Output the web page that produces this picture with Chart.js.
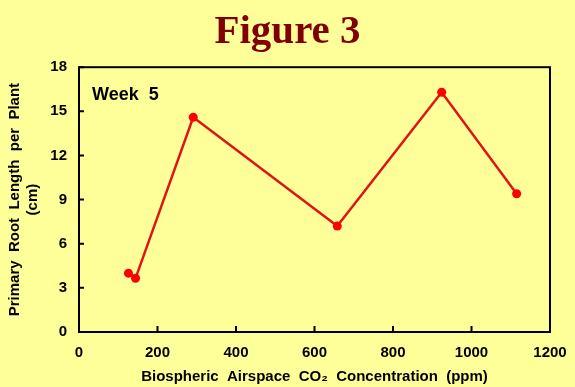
<!DOCTYPE html>
<html>
<head>
<meta charset="utf-8">
<script src="https://cdn.jsdelivr.net/npm/chart.js@4/dist/chart.umd.min.js"></script>
<style>
  html, body { margin: 0; padding: 0; background: #FFFF99; }
  #wrap { width: 575px; height: 387px; }
</style>
</head>
<body>
<div id="wrap"><canvas id="rootChart"></canvas></div>
<script>
// Week 5 readings
const co2Levels = [126, 144, 291, 658, 924, 1115];
const rootLength = [4.0, 3.65, 14.6, 7.2, 16.3, 9.4];
const xTicks = [0, 200, 400, 600, 800, 1000, 1200];
const yTicks = [0, 3, 6, 9, 12, 15, 18];

const points = co2Levels.map((c, i) => ({ x: c, y: rootLength[i] }));
const sans = '"Liberation Sans", Arial, sans-serif';

// paint background, frame around plot, inward tick marks and the "Week 5" note
const framePlugin = {
    id: 'frame',
    beforeDraw(chart) {
        const ctx = chart.ctx;
        ctx.save();
        ctx.fillStyle = '#FFFF99';
        ctx.fillRect(0, 0, chart.width, chart.height);
        ctx.restore();
    },
    afterDatasetsDraw(chart) {
        const ctx = chart.ctx;
        const a = chart.chartArea;
        const xs = chart.scales.x;
        const ys = chart.scales.y;
        ctx.save();
        ctx.strokeStyle = '#000';
        ctx.lineWidth = 2;
        ctx.strokeRect(a.left, a.top, a.right - a.left, a.bottom - a.top);
        ctx.beginPath();
        xTicks.forEach(v => {
            const px = xs.getPixelForValue(v);
            ctx.moveTo(px, a.bottom);
            ctx.lineTo(px, a.bottom - 6);
        });
        yTicks.forEach(v => {
            const py = ys.getPixelForValue(v);
            ctx.moveTo(a.left, py);
            ctx.lineTo(a.left + 5, py);
        });
        ctx.stroke();
        ctx.fillStyle = '#000';
        ctx.font = 'bold 18px ' + sans;
        ctx.textBaseline = 'alphabetic';
        ctx.fillText('Week  5', a.left + 13, a.top + 33);
        ctx.restore();
    }
};

new Chart(document.getElementById('rootChart'), {
    type: 'line',
    data: {
        datasets: [{
            data: points,
            borderColor: '#E01414',
            backgroundColor: '#FF0000',
            borderWidth: 2.5,
            pointRadius: 4.5,
            pointBorderWidth: 0,
            tension: 0
        }]
    },
    options: {
        responsive: true,
        maintainAspectRatio: false,
        animation: false,
        layout: { padding: 0 },
        plugins: {
            legend: { display: false },
            tooltip: { enabled: false },
            title: {
                display: true,
                text: 'Figure 3',
                color: '#800000',
                font: { family: '"Liberation Serif", "Times New Roman", serif', size: 41, weight: 'bold', lineHeight: 1.2 },
                padding: { top: 8, bottom: 10 }
            }
        },
        scales: {
            x: {
                type: 'linear',
                min: 0,
                max: 1200,
                afterBuildTicks: s => { s.ticks = xTicks.map(v => ({ value: v })); },
                afterFit: s => {
                    s.height = 55;
                    s.paddingLeft = 0;
                    s.paddingRight = 0;
                },
                grid: { display: false, drawTicks: false },
                border: { display: false },
                ticks: {
                    padding: 12,
                    color: '#000',
                    callback: v => String(v),
                    font: { family: sans, size: 15, weight: 'bold' }
                },
                title: {
                    display: true,
                    text: 'Biospheric  Airspace  CO\u2082  Concentration  (ppm)',
                    color: '#000',
                    font: { family: sans, size: 15, weight: 'bold' },
                    padding: { top: 0, bottom: 1 }
                }
            },
            y: {
                min: 0,
                max: 18,
                afterBuildTicks: s => { s.ticks = yTicks.map(v => ({ value: v })); },
                afterFit: s => { s.width = 79; },
                grid: { display: false, drawTicks: false },
                border: { display: false },
                ticks: {
                    padding: 12,
                    color: '#000',
                    font: { family: sans, size: 15, weight: 'bold' }
                },
                title: {
                    display: true,
                    text: ['Primary  Root  Length  per  Plant', '(cm)'],
                    color: '#000',
                    font: { family: sans, size: 15, weight: 'bold', lineHeight: 1.2 },
                    padding: { top: 6, bottom: 0 }
                }
            },
            // empty strip on the right so the plot ends where the original does
            yRight: {
                position: 'right',
                min: 0,
                max: 18,
                afterFit: s => { s.width = 25; },
                grid: { display: false, drawTicks: false },
                border: { display: false },
                ticks: { display: false }
            }
        }
    },
    plugins: [framePlugin]
});
</script>
</body>
</html>
